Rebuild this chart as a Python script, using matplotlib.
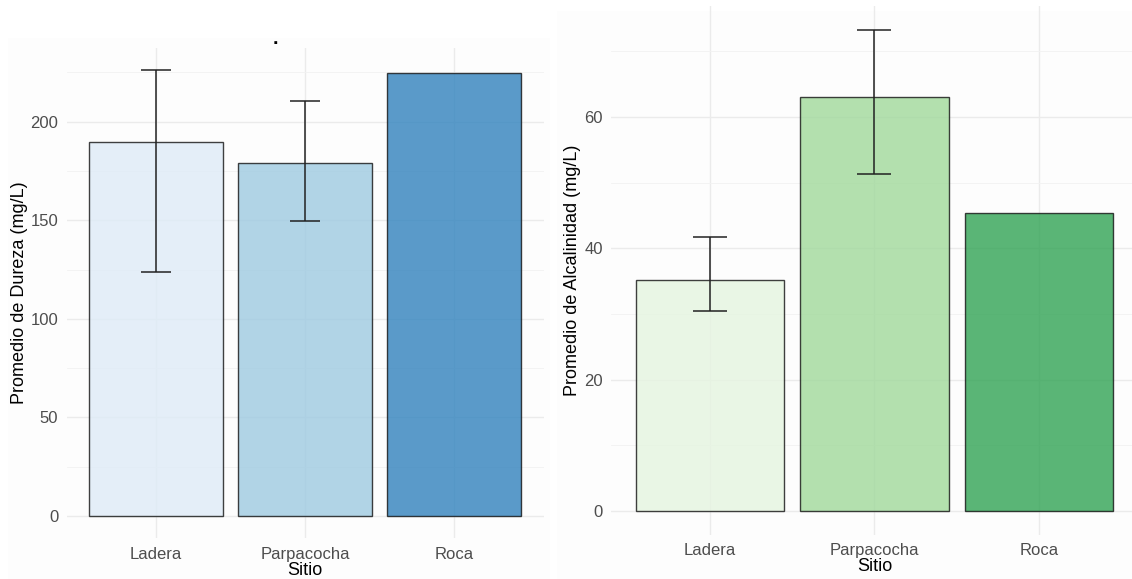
import numpy as np
import matplotlib
matplotlib.use("Agg")
import matplotlib.pyplot as plt
from matplotlib.patches import Rectangle
from matplotlib.ticker import MultipleLocator

# data
sitios = ["Ladera", "Parpacocha", "Roca"]
dureza_media = [189.7, 179.2, 224.9]
dureza_inf = [123.9, 149.6, np.nan]
dureza_sup = [226.2, 210.5, np.nan]
alcal_media = [35.2, 63.1, 45.4]
alcal_inf = [30.5, 51.3, np.nan]
alcal_sup = [41.7, 73.3, np.nan]

azules = ["#DEEBF7", "#9ECAE1", "#3182BD"]
verdes = ["#E5F5E0", "#A1D99B", "#31A354"]

plt.rcParams['font.family'] = ['Liberation Sans', 'DejaVu Sans']

W, H = 1132, 579
fig = plt.figure(figsize=(W / 100, H / 100), dpi=100)
fig.patch.set_facecolor("white")

# the two panels sit on faint grey backgrounds
fig.add_artist(Rectangle((8 / W, 0), 542 / W, 1 - 38 / H, transform=fig.transFigure,
                         facecolor="#fdfdfd", edgecolor="none", zorder=0))
fig.add_artist(Rectangle((557 / W, 0), 575 / W, 1 - 11 / H, transform=fig.transFigure,
                         facecolor="#fdfdfd", edgecolor="none", zorder=0))


def panel(rect, medias, inf, sup, colores, ylabel, paso, cap, pad):
	ax = fig.add_axes(rect)
	ax.set_facecolor("none")
	x = np.arange(len(sitios))
	ax.bar(x, medias, width=0.9, color=colores, alpha=0.8, edgecolor="#111111",
	       linewidth=1.0, zorder=2)
	medias = np.array(medias)
	inf = np.array(inf)
	sup = np.array(sup)
	ok = ~np.isnan(inf)
	ax.errorbar(x[ok], medias[ok], yerr=[medias[ok] - inf[ok], sup[ok] - medias[ok]],
	            fmt="none", ecolor="#222222", elinewidth=1.1, capsize=cap, capthick=1.1,
	            zorder=3)
	dmax = np.nanmax(np.concatenate([sup, medias]))
	ax.set_ylim(-0.05 * dmax, 1.05 * dmax)
	ax.set_xlim(-0.6, len(sitios) - 0.4)
	ax.set_xticks(x)
	ax.set_xticklabels(sitios)
	ax.yaxis.set_major_locator(MultipleLocator(paso))
	ax.yaxis.set_minor_locator(MultipleLocator(paso / 2))
	ax.grid(True, which="major", color="#ebebeb", linewidth=1.0, zorder=0)
	ax.grid(True, which="minor", axis="y", color="#f2f2f2", linewidth=0.6, zorder=0)
	ax.set_axisbelow(True)
	for s in ax.spines.values():
		s.set_visible(False)
	ax.tick_params(which="both", length=0, labelsize=12, labelcolor="#4d4d4d", pad=6)
	ax.set_xlabel("Sitio", fontsize=13, labelpad=0)
	ax.set_ylabel(ylabel, fontsize=13, labelpad=pad)
	return ax


panel([66.6 / W, 1 - 538.3 / H, 477 / W, 490.6 / H], dureza_media, dureza_inf, dureza_sup,
      azules, "Promedio de Dureza (mg/L)", 50, 11, 1.5)
panel([611.3 / W, 1 - 535.1 / H, 526.4 / W, 529.4 / H], alcal_media, alcal_inf, alcal_sup,
      verdes, "Promedio de Alcalinidad (mg/L)", 20, 12, 2.5)

# leftover of a cropped title
fig.text(275 / W, 1 - 44 / H, ".", fontsize=14, fontweight="bold", ha="center", va="baseline")

fig.savefig("out.png", dpi=100)
